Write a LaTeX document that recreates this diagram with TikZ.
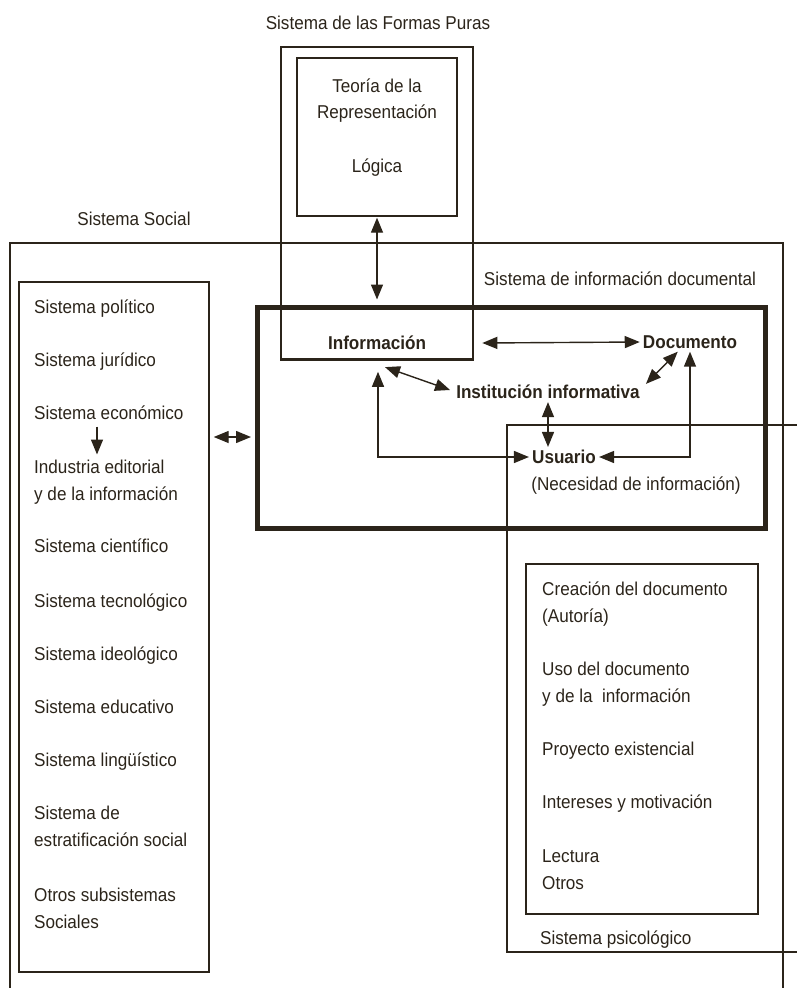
\documentclass[tikz,border=0pt]{standalone}
\usepackage{fontspec}
\setmainfont{Liberation Sans}[FakeStretch=0.92]
\usetikzlibrary{arrows.meta}
\definecolor{ink}{RGB}{43,36,26}
\newcommand{\lab}{\fontsize{18.6}{27}\selectfont}
\tikzset{
  >={Triangle[length=15pt,width=12pt]},
  every node/.style={text=ink, font=\lab, inner sep=0pt},
  thinbox/.style={draw=ink, line width=1.4pt},
  heavybox/.style={draw=ink, line width=2.6pt},
  sidbox/.style={draw=ink, line width=5pt},
  item/.style={anchor=base west},
  title/.style={anchor=base},
  key/.style={font=\lab\bfseries, inner sep=3pt},
  link/.style={draw=ink, line width=1.4pt, <->},
}

\begin{document}
\begin{tikzpicture}[x=1pt, y=-1pt]
  \useasboundingbox (0,0) rectangle (796,988);

  % boxes
  \node[heavybox, minimum width=192pt, minimum height=312.5pt] (formas) at (377,203.25) {};
  \node[thinbox, minimum width=160pt, minimum height=158pt] (repr) at (377,137) {};
  \node[thinbox, minimum width=190pt, minimum height=690pt] (subsys) at (114,627) {};
  \node[sidbox, minimum width=508pt, minimum height=221.5pt] (sid) at (511.5,417.75) {};
  \node[thinbox, minimum width=232pt, minimum height=350pt] (psibox) at (642,739) {};
  \draw[thinbox] (10,992) |- (783,243) -- (783,992);
  \draw[thinbox] (800,425) -| (507,952) -- (800,952);

  % titles
  \node[title] (tformas) at (378,29) {Sistema de las Formas Puras};
  \node[title] (tsocial) at (134,225) {Sistema Social};
  \node[title] (tsid) at (620,285) {Sistema de información documental};
  \node[item] (tpsico) at (540,944) {Sistema psicológico};

  % formas puras
  \node[title] (teoria) at (377,92) {Teoría de la};
  \node[title] (repres) at (377,118) {Representación};
  \node[title] (logica) at (377,172) {Lógica};

  % subsistemas sociales
  \node[item] (polit) at (34,313) {Sistema político};
  \node[item] (jurid) at (34,366) {Sistema jurídico};
  \node[item] (econ) at (34,419.5) {Sistema económico};
  \node[item] (indus) at (34,473.5) {Industria editorial};
  \node[item] (indusb) at (34,500.5) {y de la información};
  \node[item] (cient) at (34,552) {Sistema científico};
  \node[item] (tecno) at (34,607) {Sistema tecnológico};
  \node[item] (ideol) at (34,660) {Sistema ideológico};
  \node[item] (educ) at (34,713) {Sistema educativo};
  \node[item] (ling) at (34,766) {Sistema lingüístico};
  \node[item] (estr) at (34,819) {Sistema de};
  \node[item] (estrb) at (34,846) {estratificación social};
  \node[item] (otros) at (34,901) {Otros subsistemas};
  \node[item] (otrosb) at (34,928) {Sociales};

  % sistema psicologico
  \node[item] (crea) at (542,595) {Creación del documento};
  \node[item] (creab) at (542,622.5) {(Autoría)};
  \node[item] (uso) at (542,675) {Uso del documento};
  \node[item] (usob) at (542,702) {y de la\ \ información};
  \node[item] (proy) at (542,755) {Proyecto existencial};
  \node[item] (inter) at (542,808) {Intereses y motivación};
  \node[item] (lect) at (542,862) {Lectura};
  \node[item] (otrosp) at (542,889) {Otros};

  % sistema de informacion documental
  \node[key] (info) at (377,343) {Información};
  \node[key] (doc) at (690,342) {Documento};
  \node[key] (inst) at (548,392) {Institución informativa};
  \node[key] (usr) at (564,457) {Usuario};
  \node[title] (need) at (636,490) {(Necesidad de información)};

  % arrows
  \coordinate (gap) at (233,437);
  \draw[link, shorten <=1pt, shorten >=5pt] (repr.south) -- (repr.south |- sid.north);
  \draw[link] ([shift={(8,0)}]formas.east |- info) -- (doc.west);
  \draw[link] ([shift={(8,14)}]info.south) -- ([shift={(-3,-2)}]inst.west);
  \draw[link] ([shift={(3,2)}]inst.north east) -- ([shift={(38,0)}]doc.south west);
  \draw[link] (inst.south) -- (inst.south |- usr.north);
  \draw[link] ([shift={(1,11)}]formas.south) |- (usr.west);
  \draw[link] (doc.south) |- (usr.east);
  \draw[link] ([shift={(4,0)}]subsys.east |- gap) -- ([shift={(-4,0)}]sid.west |- gap);
  \draw[draw=ink, line width=1.4pt, ->] ([shift={(63,7)}]econ.base west) -- ([shift={(63,-19)}]indus.base west);

\end{tikzpicture}
\end{document}
